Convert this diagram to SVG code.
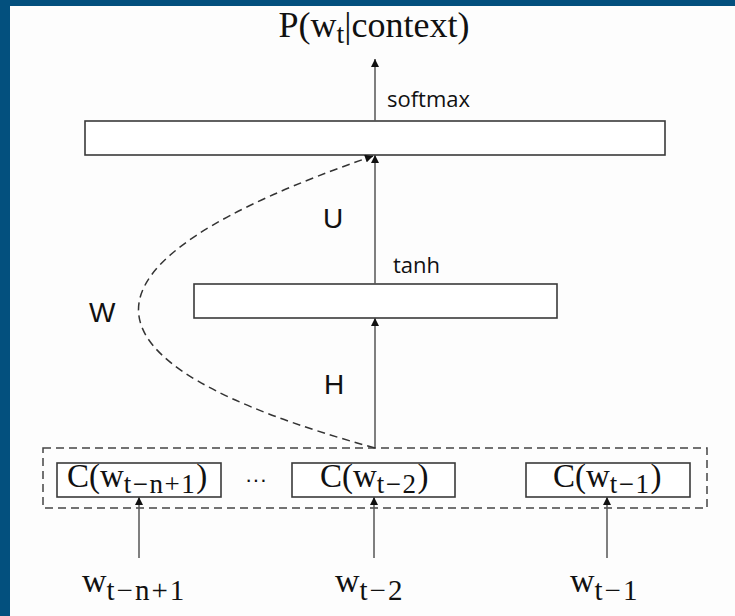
<svg xmlns="http://www.w3.org/2000/svg" width="735" height="616" viewBox="0 0 735 616">
<style>
.box{fill:#ffffff;stroke:#3a3a3a;stroke-width:1.6}
.dbox{fill:none;stroke:#444;stroke-width:1.5;stroke-dasharray:8 5}
.ln{fill:none;stroke:#555;stroke-width:1.5}
.dash{fill:none;stroke:#333;stroke-width:1.5;stroke-dasharray:8 5}
.serif{font-family:"Liberation Serif","DejaVu Serif",serif;fill:#111}
.sans{font-family:"Open Sans","DejaVu Sans",sans-serif;fill:#111}
.lat{font-family:"Liberation Sans","Arial",sans-serif;fill:#111}
</style>
<defs>
<marker id="ah" viewBox="0 0 10 10" refX="10" refY="5" markerWidth="9" markerHeight="8" markerUnits="userSpaceOnUse" orient="auto">
<path d="M0,0 L10,5 L0,10 Z" fill="#111"/>
</marker>
</defs>
<rect x="0" y="0" width="735" height="616" fill="#fdfdfd"/>
<rect x="0" y="0" width="735" height="6" fill="#03507e"/>
<rect x="0" y="0" width="10" height="616" fill="#03507e"/>

<g id="output">
<text class="serif" x="374" y="37" text-anchor="middle" font-size="36">P(w<tspan font-size="28" dy="6">t</tspan><tspan dy="-6">|context)</tspan></text>
</g>

<g id="softmax-layer">
<rect class="box" x="85" y="121" width="580" height="34"/>
<text class="sans" x="387" y="107" font-size="22">softmax</text>
</g>

<g id="tanh-layer">
<rect class="box" x="194" y="284" width="363" height="34"/>
<text class="sans" x="393" y="273" font-size="22">tanh</text>
</g>

<g id="embedding-group">
<rect class="dbox" x="43" y="448" width="664" height="60"/>
<text class="lat" x="245" y="487" font-size="22">···</text>
</g>

<g id="c1">
<rect class="box" x="57" y="463" width="164" height="34"/>
<text class="serif" x="67" y="487" font-size="33">C(w<tspan font-size="27" dy="6" letter-spacing="1.5">t−n+1</tspan><tspan dy="-6">)</tspan></text>
</g>
<g id="c2">
<rect class="box" x="292" y="463" width="163" height="34"/>
<text class="serif" x="320" y="487" font-size="33">C(w<tspan font-size="27" dy="6" letter-spacing="1.5">t−2</tspan><tspan dy="-6">)</tspan></text>
</g>
<g id="c3">
<rect class="box" x="526" y="463" width="164" height="34"/>
<text class="serif" x="553" y="487" font-size="33">C(w<tspan font-size="27" dy="6" letter-spacing="1.5">t−1</tspan><tspan dy="-6">)</tspan></text>
</g>

<g id="w1">
<text class="serif" x="82" y="592" font-size="34">w<tspan font-size="29" dy="8" letter-spacing="2">t−n+1</tspan></text>
</g>
<g id="w2">
<text class="serif" x="335" y="592" font-size="34">w<tspan font-size="29" dy="8" letter-spacing="2">t−2</tspan></text>
</g>
<g id="w3">
<text class="serif" x="570" y="592" font-size="34">w<tspan font-size="29" dy="8" letter-spacing="2">t−1</tspan></text>
</g>

<g id="connectors">
<line class="ln" x1="375" y1="121" x2="375" y2="59" marker-end="url(#ah)"/>
<line class="ln" x1="375" y1="284" x2="375" y2="155" marker-end="url(#ah)"/>
<line class="ln" x1="375" y1="448" x2="375" y2="318" marker-end="url(#ah)"/>
<line class="ln" x1="139" y1="558" x2="139" y2="497" marker-end="url(#ah)"/>
<line class="ln" x1="374" y1="558" x2="374" y2="497" marker-end="url(#ah)"/>
<line class="ln" x1="607" y1="558" x2="607" y2="497" marker-end="url(#ah)"/>
<path class="dash" d="M375,448 Q-97,318 373,156" marker-end="url(#ah)"/>
<text class="lat" x="323" y="228" font-size="28">U</text>
<text class="lat" x="89" y="322" font-size="28">W</text>
<text class="lat" x="324" y="394" font-size="28">H</text>
</g>
</svg>
